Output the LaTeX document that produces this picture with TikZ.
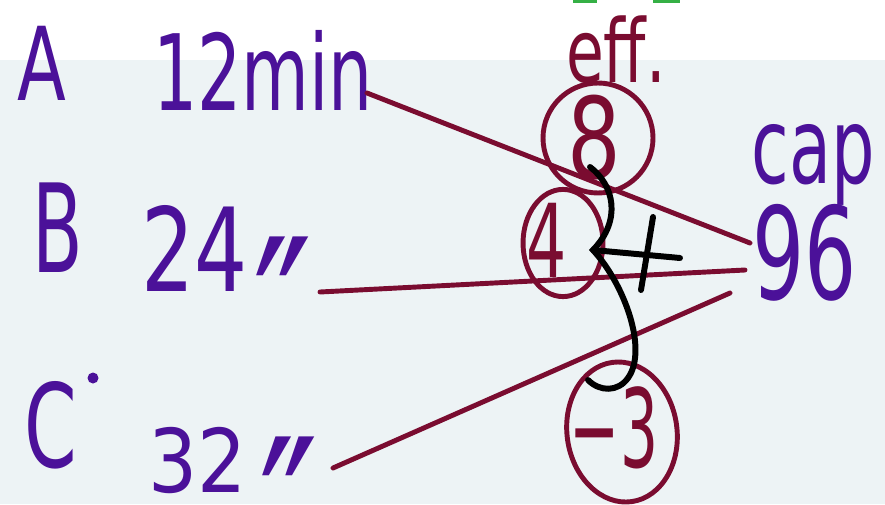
\documentclass[tikz,border=0pt]{standalone}
\usepackage{fontspec}
\setmainfont{DejaVu Sans}
\usetikzlibrary{shapes.geometric}

\definecolor{ink}{HTML}{4B1199}
\definecolor{wine}{HTML}{7A0C30}
\definecolor{board}{HTML}{EDF3F5}
\definecolor{hilite}{HTML}{35B045}

\newcommand{\dittomark}{\smash{\raisebox{-0.6em}{″}}}

\begin{document}
\begin{tikzpicture}[
    x=0.02cm, y=-0.02cm,
    hand/.style={inner sep=0pt, text=ink},
    ditto/.style={hand, font=\fontsize{90}{92}\selectfont, yscale=1.35},
    effnum/.style={inner sep=0pt, text=wine},
    ring/.style={draw=wine, ellipse, line width=2.8pt, inner sep=0pt},
    link/.style={draw=wine, line width=2.8pt, line cap=round},
    pen/.style={draw=black, line width=3.4pt, line cap=round}
]
    % page
    \fill[white] (0,0) rectangle (885,504);
    \fill[board] (0,60) rectangle (885,504);
    \fill[hilite] (573,0) rectangle (597,3);
    \fill[hilite] (653,0) rectangle (680,3);
    \useasboundingbox (0,0) rectangle (885,504);

    % jobs and times
    \node[hand, font=\fontsize{58}{60}\selectfont, xscale=0.7] (jobA) at (42,63) {A};
    \node[hand, font=\fontsize{60}{62}\selectfont, xscale=0.66] (timeA) at (263,70) {12min};
    \node[hand, font=\fontsize{70}{72}\selectfont, xscale=0.6] (jobB) at (58,228) {B};
    \node[hand, font=\fontsize{66}{68}\selectfont, xscale=0.72] (timeB) at (195,248) {24};
    \node[ditto] (dittoB) at (283,264) {\dittomark};
    \node[hand, font=\fontsize{66}{68}\selectfont, xscale=0.65] (jobC) at (51,425) {C};
    \fill[ink] (93,378) circle (5.5);
    \node[hand, font=\fontsize{50}{52}\selectfont, xscale=0.88] (timeC) at (198,461) {32};
    \node[ditto] (dittoC) at (289,464) {\dittomark};

    % efficiencies
    \node[effnum, font=\fontsize{50}{52}\selectfont, xscale=0.7] (eff) at (616,50) {eff.};
    \node[ring, minimum width=62.6pt, minimum height=62.6pt] (ring8) at (598,138) {};
    \node[effnum, font=\fontsize{64}{66}\selectfont, xscale=0.75] (num8) at (594,138) {8};
    \node[ring, minimum width=45.5pt, minimum height=61pt] (ring4) at (563,243) {};
    \node[effnum, font=\fontsize{58}{60}\selectfont, xscale=0.62] (num4) at (547,240) {4};
    \node[ring, minimum width=62.6pt, minimum height=80pt, rotate=8] (ring3) at (622,432) {};
    \node[effnum, font=\fontsize{62}{64}\selectfont, xscale=0.55] (num3) at (614,428) {−3};

    % capacity
    \node[hand, font=\fontsize{60}{62}\selectfont, xscale=0.65] (cap) at (813,165) {cap};
    \node[hand, font=\fontsize{73}{75}\selectfont, xscale=0.64] (total) at (805,253) {96};

    \coordinate (endA) at (367,93);
    \coordinate (endB) at (320,292);
    \coordinate (endC) at (333,468);
    \coordinate (hitA) at (750,243);
    \coordinate (hitB) at (745,270);
    \coordinate (hitC) at (730,293);

    \draw[link] (endA) -- (hitA);
    \draw[link] (endB) -- (hitB);
    \draw[link] (endC) -- (hitC);

    % brace and plus
    \draw[pen] (590,167) .. controls (614,185) and (622,220) .. (593,250)
               .. controls (625,285) and (648,350) .. (628,378)
               .. controls (618,392) and (600,392) .. (588,380);
    \draw[pen] (593,250) -- (680,258);
    \draw[pen] (653,217) -- (641,290);
\end{tikzpicture}
\end{document}
